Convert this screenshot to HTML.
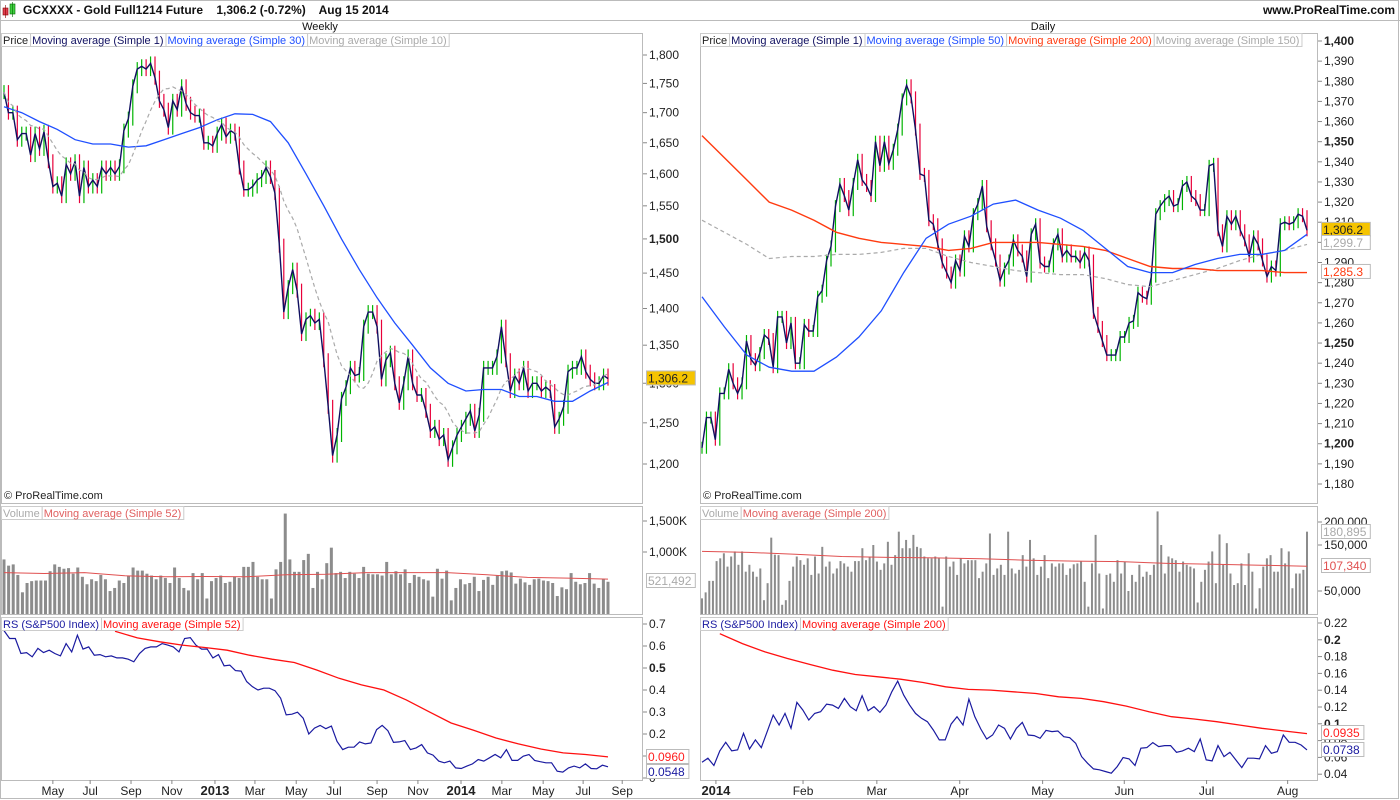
<!DOCTYPE html>
<html><head><meta charset="utf-8">
<style>
html,body{margin:0;padding:0;background:#fff;}
svg{display:block;font-family:"Liberation Sans",sans-serif;}
</style></head>
<body>
<svg id="c" width="1400" height="800" viewBox="0 0 1400 800" xmlns="http://www.w3.org/2000/svg">
<rect x="0" y="0" width="1400" height="800" fill="#fff"/>
<g>
  <rect x="3" y="8" width="5" height="7" fill="#e04050" stroke="#800" stroke-width="0.6"/>
  <line x1="5.5" y1="5" x2="5.5" y2="18" stroke="#800" stroke-width="0.6"/>
  <rect x="10" y="4" width="5" height="10" fill="#40d040" stroke="#060" stroke-width="0.6"/>
  <line x1="12.5" y1="2" x2="12.5" y2="17" stroke="#060" stroke-width="0.6"/>
  <text x="23" y="14" font-size="12" font-weight="bold" fill="#111">GCXXXX - Gold Full1214 Future&#160;&#160;&#160; 1,306.2 (-0.72%)&#160;&#160;&#160; Aug 15 2014</text>
  <text x="1395" y="14" font-size="12" font-weight="bold" fill="#111" text-anchor="end">www.ProRealTime.com</text>
  <line x1="0" y1="20.5" x2="1400" y2="20.5" stroke="#bbb"/>
  <text x="320" y="30" font-size="11" fill="#111" text-anchor="middle">Weekly</text>
  <text x="1043" y="30" font-size="11" fill="#111" text-anchor="middle">Daily</text>
</g>
<g id="L"></g>
<g id="R"></g>
<rect x="0.5" y="0.5" width="1398" height="798" fill="none" stroke="#bbb"/>
</svg>
<script>
// ---------- WEEKLY DATA ----------
const wClose=[1735,1700,1700,1655,1665,1665,1630,1665,1640,1668,1620,1580,1585,1565,1615,1600,1620,1565,1610,1580,1590,1580,1610,1600,1610,1600,1612,1670,1690,1745,1775,1780,1775,1785,1760,1720,1705,1675,1720,1705,1745,1715,1700,1695,1695,1650,1650,1645,1665,1680,1660,1670,1665,1610,1575,1575,1580,1590,1595,1610,1595,1570,1490,1395,1430,1455,1425,1365,1385,1390,1380,1385,1330,1270,1210,1235,1280,1295,1320,1310,1312,1375,1395,1395,1375,1305,1330,1340,1300,1275,1300,1335,1300,1285,1285,1265,1240,1245,1230,1235,1205,1220,1235,1245,1255,1265,1240,1260,1320,1320,1320,1335,1375,1330,1290,1310,1300,1320,1290,1300,1300,1290,1295,1290,1245,1255,1270,1315,1320,1320,1335,1315,1305,1300,1300,1310,1306];
const wMA30=[1710,1700,1685,1672,1655,1648,1648,1643,1645,1655,1665,1675,1688,1698,1697,1685,1650,1600,1550,1500,1455,1415,1380,1350,1320,1300,1290,1292,1292,1283,1283,1277,1277,1290,1301];
const wVol=[880,780,800,630,350,500,530,540,540,540,690,800,760,730,740,650,750,600,480,560,530,630,560,370,420,540,500,620,750,700,700,650,620,560,620,580,500,750,580,420,380,660,560,660,250,530,580,620,500,520,600,580,760,760,840,600,560,560,250,720,840,1620,880,680,680,870,970,420,680,560,820,1070,660,680,580,680,650,580,760,650,640,640,620,840,640,690,640,720,500,630,600,560,540,280,730,570,700,220,420,560,480,500,600,370,550,600,470,620,690,700,670,490,570,510,470,560,570,540,530,500,290,430,400,660,520,480,500,660,490,420,560,520];
const wVolMA=[668,653,668,616,600,605,600,632,642,668,668,668,632,590,579,563];
const wRS=[.670,.634,.634,.566,.570,.551,.589,.570,.581,.566,.555,.611,.573,.649,.586,.596,.558,.561,.551,.555,.546,.546,.540,.528,.566,.589,.596,.596,.611,.604,.596,.573,.634,.638,.604,.586,.586,.546,.561,.510,.513,.488,.486,.438,.415,.400,.408,.408,.397,.363,.287,.290,.299,.272,.200,.227,.239,.224,.236,.167,.129,.140,.140,.164,.155,.159,.220,.239,.215,.162,.164,.170,.129,.137,.152,.114,.104,.077,.069,.077,.046,.043,.054,.064,.084,.077,.092,.107,.092,.129,.080,.080,.099,.107,.080,.074,.069,.069,.031,.027,.046,.054,.046,.064,.043,.042,.058,.051];
const wRSMA=[.667,.637,.619,.604,.593,.581,.558,.540,.525,.491,.453,.423,.400,.355,.302,.250,.217,.182,.155,.132,.114,.107,.096];
const wTicks=[1800,1750,1700,1650,1600,1550,1500,1450,1400,1350,1300,1250,1200];
const wMonths=["May","Jul","Sep","Nov","2013","Mar","May","Jul","Sep","Nov","2014","Mar","May","Jul","Sep"];
const wMonthWeek=[11.0,19.4,28.6,37.8,47.5,56.5,65.8,74.3,84.0,93.2,102.9,112.1,121.4,130.4,139.2];

// ---------- DAILY DATA ----------
const dClose=[1198,1213,1213,1202,1225,1225,1237,1230,1225,1230,1251,1242,1239,1245,1254,1252,1238,1263,1263,1250,1260,1240,1240,1259,1256,1256,1273,1276,1291,1298,1318,1329,1323,1316,1329,1341,1331,1328,1323,1350,1338,1350,1339,1346,1356,1371,1378,1372,1356,1334,1333,1311,1309,1299,1290,1285,1280,1291,1286,1303,1298,1314,1319,1328,1308,1299,1291,1281,1287,1291,1301,1296,1293,1283,1304,1309,1290,1288,1288,1299,1304,1293,1296,1293,1293,1290,1295,1291,1265,1258,1251,1244,1244,1244,1253,1253,1260,1261,1275,1273,1272,1283,1314,1318,1321,1323,1318,1319,1328,1330,1323,1321,1316,1316,1338,1339,1306,1298,1313,1309,1313,1306,1301,1293,1303,1299,1291,1283,1288,1286,1309,1310,1309,1310,1314,1313,1306];
const dMA50=[1273,1258,1244,1238,1236,1236,1243,1253,1266,1285,1302,1309,1313,1319,1321,1316,1312,1306,1297,1288,1285,1285,1289,1292,1294,1294,1296,1304];
const dMA200=[1353,1342,1331,1320,1316,1311,1305,1302,1300,1299,1298,1296,1297,1300,1300,1300,1299,1298,1296,1292,1288,1287,1287,1286,1286,1286,1285,1285];
const dMA150=[1311,1305,1299,1292,1293,1293,1294,1294,1295,1297,1297,1293,1290,1288,1286,1285,1284,1284,1282,1279,1278,1281,1284,1287,1291,1294,1296,1299];
const dVol=[34,47,72,72,115,121,132,103,125,136,107,136,92,107,92,81,99,30,67,166,129,128,20,30,72,103,125,117,107,121,85,125,88,146,103,114,88,99,115,110,103,92,115,115,143,117,125,150,114,96,110,157,107,128,179,143,161,143,172,146,143,125,121,121,125,121,16,125,103,114,85,121,110,117,117,117,78,92,110,175,85,99,107,85,179,99,88,96,128,103,161,121,85,103,128,78,110,103,110,110,85,99,108,110,114,70,16,110,172,88,12,85,88,70,117,88,114,50,85,70,107,81,92,85,107,223,150,88,125,121,117,92,114,107,103,99,25,70,96,114,136,67,173,107,154,88,63,67,110,63,132,92,12,56,103,121,128,92,92,143,110,136,56,88,88,96,179];
const dVolMA=[136,134,130,125,123,122,120,117,115,114,110,108,106,104];
const dRS=[.0543,.059,.0503,.0677,.078,.0677,.0689,.0887,.070,.0808,.0717,.0907,.1104,.0986,.1124,.0946,.1255,.1164,.1045,.1124,.1144,.1235,.1223,.1183,.1302,.1203,.1156,.1334,.1156,.1203,.1136,.1223,.1381,.1508,.1342,.1223,.1124,.1065,.1025,.0926,.0808,.0808,.0997,.1085,.0986,.1294,.1085,.0938,.0819,.0867,.0986,.0946,.0819,.0946,.1017,.0867,.0859,.0827,.0922,.0907,.0914,.0847,.0835,.0768,.061,.0531,.0463,.0452,.0432,.0412,.0491,.0598,.0582,.0503,.0709,.0717,.0776,.0729,.074,.074,.0661,.0677,.0709,.0669,.0819,.057,.0558,.074,.061,.0661,.057,.0479,.059,.059,.0582,.074,.0649,.0669,.0867,.078,.078,.0748,.0689];
const dRSMA=[.2073,.1955,.1856,.1777,.1706,.1638,.1587,.1559,.1531,.1492,.144,.1409,.1401,.1381,.1361,.1322,.1302,.1263,.1211,.1144,.1085,.1057,.1025,.0986,.0946,.0914,.0883];
const dTicks=[1400,1390,1380,1370,1360,1350,1340,1330,1320,1310,1300,1290,1280,1270,1260,1250,1240,1230,1220,1210,1200,1190,1180];
const dMonths=["2014","Feb","Mar","Apr","May","Jun","Jul","Aug"];
const dMonthFrac=[0.023,0.167,0.289,0.426,0.563,0.698,0.834,0.968];

// ---------- helpers ----------
const NS="http://www.w3.org/2000/svg";
function mk(parent,tag,attrs,txt){const e=document.createElementNS(NS,tag);for(const k in attrs)e.setAttribute(k,attrs[k]);if(txt!==undefined)e.textContent=txt;parent.appendChild(e);return e;}
const GREEN="#00b400",RED="#e8003a",NAVY="#101060",BLUE="#1f4fff";
function poly(parent,pts,stroke,w,dash,name){
  const e=mk(parent,'polyline',{points:pts.map(p=>p[0].toFixed(1)+','+p[1].toFixed(1)).join(' '),fill:'none',stroke:stroke,'stroke-width':w});
  if(dash)e.setAttribute('stroke-dasharray',dash);
  
  
  return e;
}
function legend(parent,x,y,items){
  let cx=x;
  items.forEach(it=>{
    const r=mk(parent,'rect',{x:cx+0.5,y:y+0.5,width:10,height:13,fill:'#fff',stroke:'#ccc'});
    
    
    const t=mk(parent,'text',{x:cx+2,y:y+11,'font-size':11,fill:it.c},it.t);
    
    
    let tw=it.t.length*5.2;
    try{tw=t.getComputedTextLength();}catch(e){}
    const w=tw+4;
    r.setAttribute('width',w);
    cx+=w;
  });
}
function badge(parent,x,y,txt,fg,bg,name){
  const w=txt.length*6.4+4;
  const r=mk(parent,'rect',{x:x+0.5,y:y-7.5,width:w,height:14,fill:bg,stroke:'#bbb'});
  
  
  const t=mk(parent,'text',{x:x+2,y:y+4,'font-size':12,fill:fg},txt);
  
  
}
function paneRect(parent,x0,y0,x1,y1,name){
  const r=mk(parent,'rect',{x:x0+0.5,y:y0+0.5,width:x1-x0,height:y1-y0,fill:'none',stroke:'#bbb'});
  
  
}
function axisLabel(parent,ax,y,txt,bold,name){
  mk(parent,'line',{x1:ax,y1:y,x2:ax+4,y2:y,stroke:'#888'});
  const t=mk(parent,'text',{x:ax+6,y:y+4,'font-size':12,fill:'#222','font-weight':bold?'bold':'normal'},txt);
  
  
}
const fmt=n=>n.toLocaleString('en-US');
function sma(arr,n){return arr.map((v,i)=>{const s=arr.slice(Math.max(0,i-n+1),i+1);return s.reduce((a,b)=>a+b,0)/s.length;});}

function candles(g,closes,xf,yf,wick,name){
  closes.forEach((c,i)=>{
    const o=i>0?closes[i-1]:c;
    const up=c>=o;
    const hi=Math.min(yf(o),yf(c))-wick, lo=Math.max(yf(o),yf(c))+wick;
    const x=xf(i);
    const l=mk(g,'line',{x1:x,y1:hi,x2:x,y2:lo,stroke:up?GREEN:RED,'stroke-width':1.2});
    
    
  });
  poly(g,closes.map((c,i)=>[xf(i),yf(c)]),NAVY,1.4,null,'close-line');
}

// ---------- WEEKLY (LEFT) ----------
(function(){
  const g=document.getElementById('L');
  
  
  const N=wClose.length, X0=4, X1=608;
  const xW=i=>X0+i*(X1-X0)/(N-1);
  const L1=Math.log(1800),L2=Math.log(1200);
  const yP=p=>55+(L1-Math.log(p))/(L1-L2)*409;
  const yV=v=>614-v/1000*62;
  const yR=v=>778-v*220;
  paneRect(g,1,33,642,503,'weekly-price-pane');
  paneRect(g,1,506,642,614,'weekly-volume-pane');
  paneRect(g,1,617,642,780,'weekly-rs-pane');
  candles(g,wClose,xW,yP,7,'weekly-candle');
  poly(g,wMA30.map((v,i)=>[xW(i*(N-1)/(wMA30.length-1)),yP(v)]),BLUE,1.3,null,'ma30-line');
  poly(g,sma(wClose,10).map((v,i)=>[xW(i),yP(v)]),'#aaa',1.2,'4,3','ma10-line');
  wTicks.forEach(t=>axisLabel(g,643,yP(t),fmt(t),t===1500,'price-tick'));
  badge(g,646,yP(1306.2),'1,306.2','#222','#f5c400','last-price-badge');
  legend(g,1,33,[{t:'Price',c:'#222'},{t:'Moving average (Simple 1)',c:NAVY},{t:'Moving average (Simple 30)',c:BLUE},{t:'Moving average (Simple 10)',c:'#aaa'}]);
  const cp=mk(g,'text',{x:4,y:499,'font-size':11,fill:'#222'},'© ProRealTime.com');
  
  
  const nv=wVol.length;
  wVol.forEach((v,i)=>{
    const x=xW(i*(N-1)/(nv-1));
    const r=mk(g,'rect',{x:x-1.5,y:yV(v),width:3,height:614-yV(v),fill:'#8c8c8c'});
    
    
  });
  poly(g,wVolMA.map((v,i)=>[xW(i*(N-1)/(wVolMA.length-1)),yV(v)]),'#e05050',1,null,'volume-ma-line');
  [[1500,'1,500K'],[1000,'1,000K']].forEach(t=>axisLabel(g,643,yV(t[0]),t[1],false,'volume-tick'));
  badge(g,646,581,'521,492','#aaa','#fff','volume-badge');
  legend(g,1,506,[{t:'Volume',c:'#aaa'},{t:'Moving average (Simple 52)',c:'#e06060'}]);
  poly(g,wRS.map((v,i)=>[xW(i*(N-1)/(wRS.length-1)),yR(v)]),'#1a1aa0',1.2,null,'rs-line');
  const s0=25;
  poly(g,wRSMA.map((v,i)=>[xW(s0+i*(N-1-s0)/(wRSMA.length-1)),yR(v)]),'#ff1010',1.3,null,'rs-ma-line');
  [0.7,0.6,0.5,0.4,0.3,0.2,0.1,0].forEach(t=>axisLabel(g,643,yR(t),t===0?'0':String(t),t===0.5,'rs-tick'));
  badge(g,646,757,'0.0960','#ff2020','#fff','rs-ma-badge');
  badge(g,646,772,'0.0548','#1a1aa0','#fff','rs-badge');
  legend(g,1,617,[{t:'RS (S&P500 Index)',c:'#1a1aa0'},{t:'Moving average (Simple 52)',c:'#ff1010'}]);
  wMonths.forEach((m,i)=>{
    const x=xW(wMonthWeek[i]);
    mk(g,'line',{x1:x,y1:780,x2:x,y2:784,stroke:'#888'});
    const bold=/^\d/.test(m);
    const t=mk(g,'text',{x:x,y:795,'font-size':bold?13:12,'font-weight':bold?'bold':'normal','text-anchor':'middle',fill:'#222'},m);
    
    
  });
})();

// ---------- DAILY (RIGHT) ----------
(function(){
  const g=document.getElementById('R');
  
  
  const N=dClose.length, X0=702, X1=1307;
  const xD=i=>X0+i*(X1-X0)/(N-1);
  const yP=p=>41+(1400-p)/220*443;
  const yV=v=>614-v*0.46;
  const yR=v=>623+(0.22-v)/0.02*16.8;
  paneRect(g,700,33,1317,503,'daily-price-pane');
  paneRect(g,700,506,1317,614,'daily-volume-pane');
  paneRect(g,700,617,1317,780,'daily-rs-pane');
  candles(g,dClose,xD,yP,6,'daily-candle');
  const sp=(arr)=>arr.map((v,i)=>[xD(i*(N-1)/(arr.length-1)),yP(v)]);
  poly(g,sp(dMA150),'#aaa',1.2,'4,3','ma150-line');
  poly(g,sp(dMA200),'#ff3b10',1.4,null,'ma200-line');
  poly(g,sp(dMA50),BLUE,1.3,null,'ma50-line');
  dTicks.forEach(t=>axisLabel(g,1318,yP(t),fmt(t),t%50===0,'price-tick'));
  badge(g,1321,yP(1306.2),'1,306.2','#222','#f5c400','last-price-badge');
  badge(g,1321,yP(1299.7),'1,299.7','#aaa','#fff','ma150-badge');
  badge(g,1321,yP(1285.3),'1,285.3','#ff3b10','#fff','ma200-badge');
  legend(g,700,33,[{t:'Price',c:'#222'},{t:'Moving average (Simple 1)',c:NAVY},{t:'Moving average (Simple 50)',c:BLUE},{t:'Moving average (Simple 200)',c:'#ff3b10'},{t:'Moving average (Simple 150)',c:'#aaa'}]);
  const cp=mk(g,'text',{x:703,y:499,'font-size':11,fill:'#222'},'© ProRealTime.com');
  
  
  const nv=dVol.length;
  dVol.forEach((v,i)=>{
    const x=xD(i*(N-1)/(nv-1));
    const r=mk(g,'rect',{x:x-1,y:yV(v),width:2,height:614-yV(v),fill:'#8c8c8c'});
    
    
  });
  poly(g,dVolMA.map((v,i)=>[xD(i*(N-1)/(dVolMA.length-1)),yV(v)]),'#e05050',1,null,'volume-ma-line');
  [[200,'200,000'],[150,'150,000'],[50,'50,000']].forEach(t=>axisLabel(g,1318,yV(t[0]),t[1],false,'volume-tick'));
  badge(g,1321,532,'180,895','#aaa','#fff','volume-badge');
  badge(g,1321,566,'107,340','#e05050','#fff','volume-ma-badge');
  legend(g,700,506,[{t:'Volume',c:'#aaa'},{t:'Moving average (Simple 200)',c:'#e06060'}]);
  poly(g,dRS.map((v,i)=>[xD(i*(N-1)/(dRS.length-1)),yR(v)]),'#1a1aa0',1.2,null,'rs-line');
  const s0=4;
  poly(g,dRSMA.map((v,i)=>[xD(s0+i*(N-1-s0)/(dRSMA.length-1)),yR(v)]),'#ff1010',1.3,null,'rs-ma-line');
  [0.22,0.2,0.18,0.16,0.14,0.12,0.1,0.08,0.06,0.04].forEach(t=>axisLabel(g,1318,yR(t),String(t),t===0.2||t===0.1,'rs-tick'));
  badge(g,1321,733,'0.0935','#ff2020','#fff','rs-ma-badge');
  badge(g,1321,750,'0.0738','#1a1aa0','#fff','rs-badge');
  legend(g,700,617,[{t:'RS (S&P500 Index)',c:'#1a1aa0'},{t:'Moving average (Simple 200)',c:'#ff1010'}]);
  dMonths.forEach((m,i)=>{
    const x=X0+dMonthFrac[i]*(X1-X0);
    mk(g,'line',{x1:x,y1:780,x2:x,y2:784,stroke:'#888'});
    const bold=/^\d/.test(m);
    const t=mk(g,'text',{x:x,y:795,'font-size':bold?13:12,'font-weight':bold?'bold':'normal','text-anchor':'middle',fill:'#222'},m);
    
    
  });
})();
</script>
</body></html>
